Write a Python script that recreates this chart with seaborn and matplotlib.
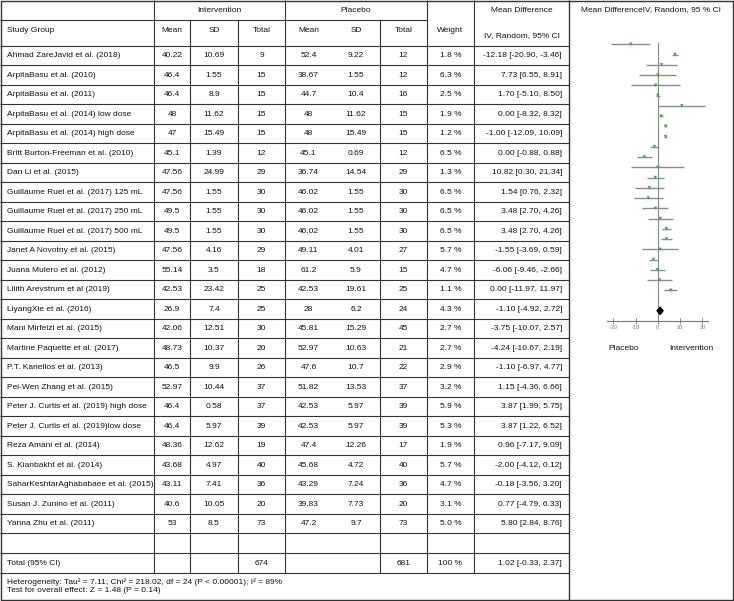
import numpy as np
import pandas as pd
import seaborn as sns
import matplotlib.pyplot as plt

studies = [
    "Ahmad ZareJavid et al. (2018)",
    "ArpitaBasu et al. (2010)",
    "ArpitaBasu et al. (2011)",
    "ArpitaBasu et al. (2014) low dose",
    "ArpitaBasu et al. (2014) high dose",
    "Britt Burton-Freeman et al. (2010)",
    "Dan Li et al. (2015)",
    "Guillaume Ruel et al. (2017) 125 mL",
    "Guillaume Ruel et al. (2017) 250 mL",
    "Guillaume Ruel et al. (2017) 500 mL",
    "Janet A Novotny et al. (2015)",
    "Juana Mulero et al. (2012)",
    "Lilith Arevstrum et al (2019)",
    "LiyangXie et al. (2016)",
    "Mani Mirfeizi et al. (2015)",
    "Martine Paquette et al. (2017)",
    "P.T. Kanellos et al. (2013)",
    "Pei-Wen Zhang et al. (2015)",
    "Peter J. Curtis et al. (2019) high dose",
    "Peter J. Curtis et al. (2019)low dose",
    "Reza Amani et al. (2014)",
    "S. Kianbakht et al. (2014)",
    "SaharKeshtarAghababaee et al. (2015)",
    "Susan J. Zunino et al. (2011)",
    "Yanna Zhu et al. (2011)",
]
int_mean = ["40.22", "46.4", "46.4", "48", "47", "45.1", "47.56", "47.56", "49.5", "49.5",
            "47.56", "55.14", "42.53", "26.9", "42.06", "48.73", "46.5", "52.97", "46.4",
            "46.4", "48.36", "43.68", "43.11", "40.6", "53"]
int_sd = ["10.69", "1.55", "8.9", "11.62", "15.49", "1.39", "24.99", "1.55", "1.55", "1.55",
          "4.16", "3.5", "23.42", "7.4", "12.51", "10.37", "9.9", "10.44", "0.58", "5.97",
          "12.62", "4.97", "7.41", "10.05", "8.5"]
int_n = [9, 15, 15, 15, 15, 12, 29, 30, 30, 30, 29, 18, 25, 25, 30, 20, 26, 37, 37, 39,
         19, 40, 36, 20, 73]
pl_mean = ["52.4", "38.67", "44.7", "48", "48", "45.1", "36.74", "46.02", "46.02", "46.02",
           "49.11", "61.2", "42.53", "28", "45.81", "52.97", "47.6", "51.82", "42.53",
           "42.53", "47.4", "45.68", "43.29", "39.83", "47.2"]
pl_sd = ["9.22", "1.55", "10.4", "11.62", "15.49", "0.69", "14.54", "1.55", "1.55", "1.55",
         "4.01", "5.9", "19.61", "6.2", "15.29", "10.63", "10.7", "13.53", "5.97", "5.97",
         "12.26", "4.72", "7.24", "7.73", "9.7"]
pl_n = [12, 12, 16, 15, 15, 12, 29, 30, 30, 30, 27, 15, 25, 24, 45, 21, 22, 37, 39, 39,
        17, 40, 36, 20, 73]
weight = [1.8, 6.3, 2.5, 1.9, 1.2, 6.5, 1.3, 6.5, 6.5, 6.5, 5.7, 4.7, 1.1, 4.3, 2.7, 2.7,
          2.9, 3.2, 5.9, 5.3, 1.9, 5.7, 4.7, 3.1, 5.0]
md = [-12.18, 7.73, 1.70, 0.00, -1.00, 0.00, 10.82, 1.54, 3.48, 3.48, -1.55, -6.06, 0.00,
      -1.10, -3.75, -4.24, -1.10, 1.15, 3.87, 3.87, 0.96, -2.00, -0.18, 0.77, 5.80]
ci_lo = [-20.90, 6.55, -5.10, -8.32, -12.09, -0.88, 0.30, 0.76, 2.70, 2.70, -3.69, -9.46,
         -11.97, -4.92, -10.07, -10.67, -6.97, -4.36, 1.99, 1.22, -7.17, -4.12, -3.56,
         -4.79, 2.84]
ci_hi = [-3.46, 8.91, 8.50, 8.32, 10.09, 0.88, 21.34, 2.32, 4.26, 4.26, 0.59, -2.66, 11.97,
         2.72, 2.57, 2.19, 4.77, 6.66, 5.75, 6.52, 9.09, 0.12, 3.20, 6.33, 8.76]
total_int, total_pl = 674, 681
pooled = (1.02, -0.33, 2.37)
ticks = [-20, -10, 0, 10, 20]
heterogeneity = "Heterogeneity: Tau² = 7.11; Chi² = 218.02, df = 24 (P < 0.00001); I² = 89%"
overall = "Test for overall effect: Z = 1.48 (P = 0.14)"

sns.set_theme(style="white")
plt.rcParams['font.family'] = ['Liberation Sans', 'DejaVu Sans']
plt.rcParams['text.color'] = '#111111'
FS = 6
LC = '#333333'

fig = plt.figure(figsize=(7.34, 6.01), dpi=100)

# --- table, drawn in pixel coords ---
tab = fig.add_axes([0, 0, 1, 1])
tab.set_xlim(0, 734)
tab.set_ylim(601, 0)
tab.axis('off')

col_edges = [0, 154, 190, 238, 285, 332, 380, 427, 474, 569]
row_top = 46
row_h = 19.49
n = len(studies)
rows_end = row_top + n * row_h
empty_end = rows_end + 20
total_end = empty_end + 20

# outer border
tab.plot([0.5, 732.5, 732.5, 0.5, 0.5], [0.5, 0.5, 600, 600, 0.5], color=LC, lw=1)
tab.vlines(569, 0, 600, color=LC, lw=1)
# horizontal lines
tab.hlines(20, 0, 427, color=LC, lw=0.8)
for k in range(n + 3):
    tab.hlines(row_top + k * row_h if k <= n else rows_end + (k - n) * 20, 0, 569,
               color=LC, lw=0.8)
# vertical lines
for x in [154, 285, 427, 474]:
    tab.vlines(x, 0, total_end, color=LC, lw=0.8)
for x in [190, 238, 380]:
    tab.vlines(x, 20, total_end, color=LC, lw=0.8)

def cx(i):
    return (col_edges[i] + col_edges[i + 1]) / 2

# headers
tab.text(219.5, 10, "Intervention", ha='center', va='center', fontsize=FS)
tab.text(356, 10, "Placebo", ha='center', va='center', fontsize=FS)
tab.text(cx(8), 11, "Mean Difference", ha='center', va='center', fontsize=FS)
tab.text(cx(8), 36, "IV, Random, 95% CI", ha='center', va='center', fontsize=FS)
tab.text(7, 31, "Study Group", ha='left', va='center', fontsize=FS)
for i, h in enumerate(["Mean", "SD", "Total", "Mean", "SD", "Total", "Weight"]):
    tab.text(cx(i + 1), 31, h, ha='center', va='center', fontsize=FS)

for r in range(n):
    y = row_top + (r + 0.5) * row_h
    tab.text(7, y, studies[r], ha='left', va='center', fontsize=FS)
    vals = [int_mean[r], int_sd[r], int_n[r], pl_mean[r], pl_sd[r], pl_n[r],
            "%.1f %%" % weight[r]]
    for i, v in enumerate(vals):
        tab.text(cx(i + 1), y, str(v), ha='center', va='center', fontsize=FS)
    tab.text(562, y, "%.2f [%.2f, %.2f]" % (md[r], ci_lo[r], ci_hi[r]),
             ha='right', va='center', fontsize=FS)

yt = empty_end + 10
tab.text(7, yt, "Total (95% CI)", ha='left', va='center', fontsize=FS)
tab.text(cx(3), yt, str(total_int), ha='center', va='center', fontsize=FS)
tab.text(cx(6), yt, str(total_pl), ha='center', va='center', fontsize=FS)
tab.text(cx(7), yt, "100 %", ha='center', va='center', fontsize=FS)
tab.text(562, yt, "%.2f [%.2f, %.2f]" % pooled, ha='right', va='center', fontsize=FS)
tab.text(7, 582, heterogeneity, ha='left', va='center', fontsize=FS)
tab.text(7, 591, overall, ha='left', va='center', fontsize=FS)

tab.text(651, 10, "Mean DifferenceIV, Random, 95 % CI", ha='center', va='center', fontsize=FS)
tab.text(624, 348, "Placebo", ha='center', va='center', fontsize=FS)
tab.text(691, 348, "Intervention", ha='center', va='center', fontsize=FS)

# --- forest plot ---
zero_px, px_per = 657.8, 2.225
left_px, right_px = 607, 708
top_px, bot_px = 36, 321
y0_px, dy_px = 44.3, 10.25
fp = fig.add_axes([left_px / 734, 1 - bot_px / 601,
                   (right_px - left_px) / 734, (bot_px - top_px) / 601])
fp.set_xlim((left_px - zero_px) / px_per, (right_px - zero_px) / px_per)
fp.set_ylim((bot_px - y0_px) / dy_px, (top_px - y0_px) / dy_px)
fp.patch.set_alpha(0)
for s in ['top', 'left', 'right']:
    fp.spines[s].set_visible(False)
fp.spines['bottom'].set_color('#777777')
fp.spines['bottom'].set_linewidth(0.8)

df = pd.DataFrame({"study": studies, "md": md, "lo": ci_lo, "hi": ci_hi,
                   "row": np.arange(n)})
fp.vlines(0, -0.25, (bot_px - y0_px) / dy_px, color='#888888', lw=0.8)
fp.hlines(df["row"], df["lo"], df["hi"], color='#8c8c8c', lw=1)
sns.scatterplot(data=df, x="md", y="row", marker='v', s=6, color='#2fae3a',
                edgecolor='none', ax=fp, legend=False, zorder=3)
yd = n + 1
est, lo, hi = pooled
fp.fill([lo, est, hi, est], [yd, yd - 0.36, yd, yd + 0.36], color='black', zorder=3)

fp.set_xticks(ticks)
fp.set_xticklabels([str(t) for t in ticks])
fp.set_yticks([])
fp.tick_params(axis='x', direction='inout', length=4, width=0.6, color='#777777',
               labelsize=4, labelcolor='#777777', pad=1, bottom=True)
fp.set_xlabel("")
fp.set_ylabel("")

fig.savefig("out.png", dpi=100)
